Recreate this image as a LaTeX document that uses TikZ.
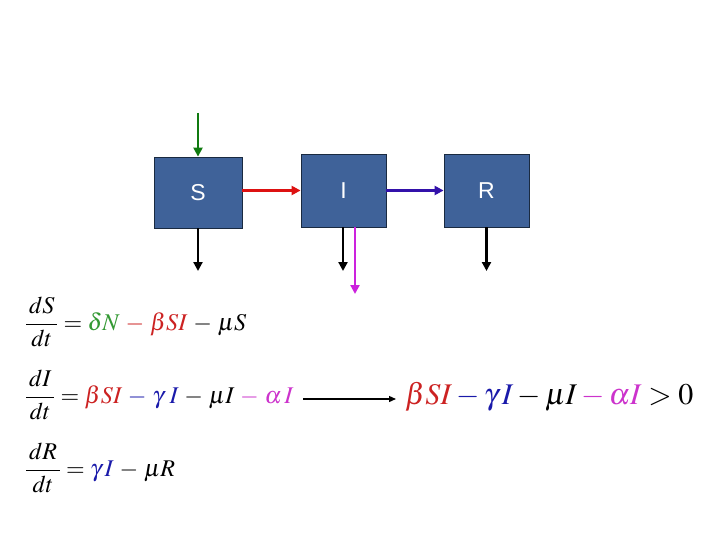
\documentclass[tikz,border=0pt]{standalone}
\usepackage{mathptmx}
\usepackage{fontspec}
\newfontfamily\boxfont{Liberation Sans}
\usetikzlibrary{arrows.meta}
\definecolor{boxblue}{HTML}{3F6299}
\definecolor{boxedge}{HTML}{1A2A40}
\definecolor{arrgreen}{HTML}{107A10}
\definecolor{arrred}{HTML}{DD1111}
\definecolor{arrblue}{HTML}{3311AA}
\definecolor{arrmag}{HTML}{CC22DD}
\definecolor{eqgreen}{HTML}{339933}
\definecolor{eqred}{HTML}{CC2222}
\definecolor{eqblue}{HTML}{1A1AAA}
\definecolor{eqmag}{HTML}{CC33CC}
\tikzset{
  comp/.style={draw=boxedge, line width=0.8pt, fill=boxblue, minimum width=87pt, minimum height=72pt, inner sep=0pt, text=white, font=\boxfont\fontsize{23}{27}\selectfont},
  flow/.style={line width=2.2pt, -{Triangle[length=9pt,width=9pt]}},
  eq/.style={anchor=west, inner sep=0pt, font=\fontsize{24}{28}\selectfont, execute at begin node={\medmuskip=4.3mu plus 2mu minus 2mu}},
  bigeq/.style={anchor=west, inner sep=0pt, font=\fontsize{30}{34}\selectfont}
}
\newcommand{\fr}[2]{\frac{\mkern2mu#1\mkern2mu}{\mkern2mu#2\mkern2mu}}
\begin{document}
\begin{tikzpicture}[x=1pt,y=-1pt]
\useasboundingbox (0,0) rectangle (720,540);
\node[comp, minimum width=88pt, minimum height=71pt] (S) at (198,192.5) {S};
\node[comp, minimum width=85pt, minimum height=73pt] (I) at (343.5,190.5) {I};
\node[comp, minimum width=85pt, minimum height=73pt] (R) at (486.5,190.5) {R};
\coordinate (gin) at (198,113);
\coordinate (sout) at (198,271);
\coordinate (iout) at (343,271);
\coordinate (aout) at (355,294);
\coordinate (rout) at (486.5,271);
\draw[flow, arrgreen] (gin) -- (S.north);
\draw[flow, arrred] (S.east) ++(0,-2) coordinate (sr) (sr) -- (I.west |- sr);
\draw[flow, arrblue] (I.east) -- (R.west);
\draw[flow, black] (S.south) -- (sout);
\draw[flow, black] (I.south -| iout) -- (iout);
\draw[flow, arrmag] (I.south -| aout) -- (aout);
\draw[flow, black] (R.south) -- (rout);
\node[eq] (e1) at (25,322) {$\displaystyle\fr{dS}{dt}={\color{eqgreen}\delta N}\mathbin{\color{eqred}-}{\color{eqred}\beta SI}-\mu S$};
\node[eq] (e2) at (25,395) {$\displaystyle\fr{dI}{dt}={\color{eqred}\beta SI}\mathbin{\color{eqblue}-}{\color{eqblue}\gamma\,\, I}-\mu I\mathbin{\color{eqmag}-}{\color{eqmag}\alpha\, I}$};
\node[eq] (e3) at (25,468) {$\displaystyle\fr{dR}{dt}={\color{eqblue}\gamma\, I}-\mu R$};
\node[bigeq] (e4) at (405,397) {${\color{eqred}\beta SI}\mathbin{\color{eqblue}-}{\color{eqblue}\gamma\, I}-\mu I\mathbin{\color{eqmag}-}{\color{eqmag}\alpha I}>0$};
\coordinate (a1) at (303,399);
\coordinate (a2) at (396,399);
\draw[line width=1.3pt, -{Triangle[length=7pt,width=6pt]}] (a1) -- (a2);
\end{tikzpicture}
\end{document}
